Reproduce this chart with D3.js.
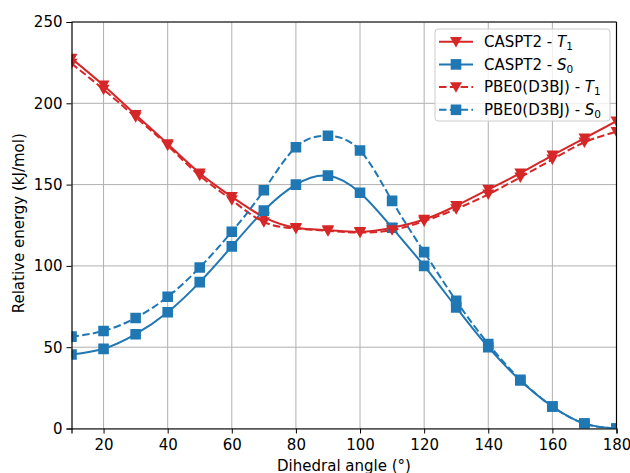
<!DOCTYPE html>
<html><head><meta charset="utf-8">
<script src="https://cdn.jsdelivr.net/npm/d3@7"></script>
<style>body{margin:0;background:#fff}svg{display:block;font-family:"DejaVu Sans",sans-serif}</style>
</head><body><svg id="c" width="630" height="473"></svg>
<script>
const angles = [10,20,30,40,50,60,70,80,90,100,110,120,130,140,150,160,170,180];
const casT1 = [227.5,211,193,175,157,142.5,130,123.5,122,121,123.5,128.5,137,147,157,168,178.5,189];
const casS0 = [45.5,49,58,71.5,90,112,134,150,155.5,145,123.5,100,74.5,50,29.5,13.5,3,0];
const pbeT1 = [224.5,208.5,191.5,174,155.5,140.5,127,123,121.5,120.5,122,127.5,135,144,154.5,165.5,176,182.5];
const pbeS0 = [56.5,60,68,81,99,121,146.5,173,180,171,140,108.5,78.5,52,30,13.5,3,0];
const xTicks = [20,40,60,80,100,120,140,160,180];
const yTicks = [0,50,100,150,200,250];
const seriesNames = ["CASPT2 - ","CASPT2 - ","PBE0(D3BJ) - ","PBE0(D3BJ) - "];
const seriesStates = [["T","1"],["S","0"],["T","1"],["S","0"]];

const FS = 15;
const svg = d3.select("#c");
const m = {l:71.5, r:616.5, t:22, b:428.5};
const x = d3.scaleLinear().domain([10,180]).range([m.l,m.r]);
const y = d3.scaleLinear().domain([0,250]).range([m.b,m.t]);
const red = "#d62728", blue = "#1f77b4";
const series = [
  {v:casT1, c:red, dash:null, mk:"tri"},
  {v:casS0, c:blue, dash:null, mk:"sq"},
  {v:pbeT1, c:red, dash:"7.5,3.3", mk:"tri"},
  {v:pbeS0, c:blue, dash:"7.5,3.3", mk:"sq"}
];

svg.append("defs").append("clipPath").attr("id","clip").append("rect")
  .attr("x",m.l).attr("y",m.t).attr("width",m.r-m.l).attr("height",m.b-m.t);

// grid
const g = svg.append("g");
g.selectAll(".gx").data(xTicks).join("line").attr("x1",d=>x(d)).attr("x2",d=>x(d))
  .attr("y1",m.t).attr("y2",m.b).attr("stroke","#b0b0b0").attr("stroke-width",1);
g.selectAll(".gy").data(yTicks).join("line").attr("y1",d=>y(d)).attr("y2",d=>y(d))
  .attr("x1",m.l).attr("x2",m.r).attr("stroke","#b0b0b0").attr("stroke-width",1);

const triPath = s => `M${-s},${-s*0.8}L${s},${-s*0.8}L0,${s*0.95}Z`;
const sqPath = s => `M${-s},${-s}H${s}V${s}H${-s}Z`;

const plot = svg.append("g").attr("clip-path","url(#clip)");
const line = d3.line().x((d,i)=>x(angles[i])).y(d=>y(d)).curve(d3.curveNatural);
series.forEach(s=>{
  plot.append("path").attr("d",line(s.v)).attr("fill","none").attr("stroke",s.c)
    .attr("stroke-width",2).attr("stroke-dasharray",s.dash);
  plot.selectAll(null).data(s.v).join("path")
    .attr("transform",(d,i)=>`translate(${x(angles[i])},${y(d)})`)
    .attr("d", s.mk==="tri"? triPath(6): sqPath(5.3)).attr("fill",s.c);
});

// axes
const ax = svg.append("g").attr("transform",`translate(0,${m.b})`)
  .call(d3.axisBottom(x).tickValues(xTicks).tickSize(5).tickPadding(6));
const ay = svg.append("g").attr("transform",`translate(${m.l},0)`)
  .call(d3.axisLeft(y).tickValues(yTicks).tickSize(5).tickPadding(4));
[ax,ay].forEach(a=>{
  a.selectAll("text").attr("font-size",FS).attr("font-family","DejaVu Sans").attr("fill","#000");
  a.selectAll("line").attr("stroke","#000").attr("stroke-width",1);
  a.select(".domain").attr("stroke","#000").attr("stroke-width",1.2);
});
// right/top spines
svg.append("line").attr("x1",m.r).attr("x2",m.r).attr("y1",m.t).attr("y2",m.b).attr("stroke","#000").attr("stroke-width",1.2);
svg.append("line").attr("x1",m.l).attr("x2",m.r).attr("y1",m.t).attr("y2",m.t).attr("stroke","#000").attr("stroke-width",1.2);

svg.append("text").attr("x",(m.l+m.r)/2).attr("y",470.5).attr("text-anchor","middle")
  .attr("font-size",FS).text("Dihedral angle (°)");
svg.append("text").attr("transform",`translate(23.5,${(m.t+m.b)/2-2}) rotate(-90)`)
  .attr("text-anchor","middle").attr("font-size",FS).text("Relative energy (kJ/mol)");

// legend
const lg = svg.append("g");
lg.append("rect").attr("x",435).attr("y",29).attr("width",175).attr("height",92).attr("rx",3)
  .attr("fill","#fff").attr("fill-opacity",0.8).attr("stroke","#cccccc").attr("stroke-width",1);
series.forEach((s,i)=>{
  const yy = 41.7 + i*22.7;
  lg.append("line").attr("x1",439).attr("x2",473).attr("y1",yy).attr("y2",yy)
    .attr("stroke",s.c).attr("stroke-width",2).attr("stroke-dasharray",s.dash);
  lg.append("path").attr("transform",`translate(456,${yy})`)
    .attr("d", s.mk==="tri"? triPath(6): sqPath(5.3)).attr("fill",s.c);
  const t = lg.append("text").attr("x",484).attr("y",yy+5.3).attr("font-size",FS);
  t.append("tspan").text(seriesNames[i]);
  t.append("tspan").attr("font-style","italic").text(seriesStates[i][0]);
  t.append("tspan").attr("font-size",10.5).attr("dy",3).text(seriesStates[i][1]);
});
</script></body></html>
